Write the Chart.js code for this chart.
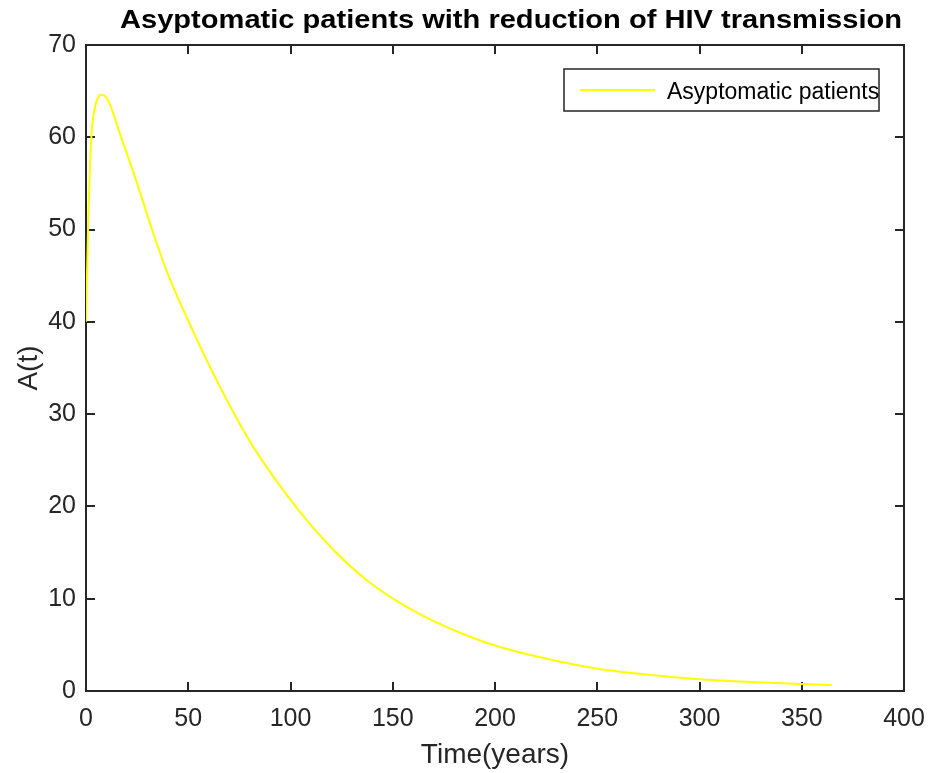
<!DOCTYPE html>
<html>
<head>
<meta charset="utf-8">
<script src="https://cdn.jsdelivr.net/npm/chart.js@4.4.1/dist/chart.umd.min.js"></script>
<style>
  html, body { margin: 0; padding: 0; background: #fff; }
  canvas { display: block; }
</style>
</head>
<body>
<canvas id="chart" width="932" height="773"></canvas>
<script>
// valores
const chartTitle = 'Asyptomatic patients with reduction of HIV transmission';
const seriesLabel = 'Asyptomatic patients';
const times = [0, 1, 2.6, 4, 5.5, 7.5, 10, 12, 16.6, 25, 32.9, 40, 49.2, 65.5, 81.8, 104.6, 120.9, 137.3, 153.5, 169.8, 186.2, 202.4, 226.9, 249.7, 275, 299.6, 325, 350, 364.6];
const asymptomatic = [40, 50, 60, 62.8, 64.1, 64.6, 64.3, 63.4, 60.4, 55, 49.6, 45.2, 40.5, 32.96, 26.45, 19.4, 15.3, 12.0, 9.55, 7.6, 6.02, 4.77, 3.42, 2.45, 1.76, 1.27, 0.98, 0.76, 0.65];
const xTicks = [0, 50, 100, 150, 200, 250, 300, 350, 400];
const yTicks = [0, 10, 20, 30, 40, 50, 60, 70];

const axisColor = '#262626';
const fontFamily = 'Arial, "Liberation Sans", sans-serif';

// caja de ejes estilo MATLAB, marcas hacia dentro en los cuatro lados
const framePlugin = {
    id: 'frame',
    beforeDatasetsDraw(chart) {
        const { ctx, chartArea: a, scales } = chart;
        const len = 9;
        ctx.save();
        ctx.strokeStyle = axisColor;
        ctx.lineWidth = 2;
        ctx.strokeRect(a.left, a.top, a.right - a.left, a.bottom - a.top);
        ctx.beginPath();
        xTicks.forEach(v => {
            const px = Math.round(scales.x.getPixelForValue(v));
            ctx.moveTo(px, a.bottom); ctx.lineTo(px, a.bottom - len);
            ctx.moveTo(px, a.top); ctx.lineTo(px, a.top + len);
        });
        yTicks.forEach(v => {
            const py = Math.round(scales.y.getPixelForValue(v));
            ctx.moveTo(a.left, py); ctx.lineTo(a.left + len, py);
            ctx.moveTo(a.right, py); ctx.lineTo(a.right - len, py);
        });
        ctx.stroke();
        ctx.restore();
    },
    afterDatasetsDraw(chart) {
        const { ctx } = chart;
        ctx.save();
        // leyenda
        const box = { x: 564, y: 69, w: 315, h: 42 };
        ctx.fillStyle = '#fff';
        ctx.fillRect(box.x, box.y, box.w, box.h);
        ctx.lineWidth = 1.5;
        ctx.strokeStyle = axisColor;
        ctx.strokeRect(box.x, box.y, box.w, box.h);
        const ds = chart.data.datasets[0];
        ctx.strokeStyle = ds.borderColor;
        ctx.lineWidth = 2;
        ctx.beginPath();
        ctx.moveTo(580, 90); ctx.lineTo(655, 90);
        ctx.stroke();
        ctx.fillStyle = '#000';
        ctx.font = '23px ' + fontFamily;
        ctx.textBaseline = 'alphabetic';
        ctx.textAlign = 'left';
        ctx.fillText(ds.label, 667, 99);

        // titulo (ligeramente ensanchado como en la figura)
        ctx.font = 'bold 25px ' + fontFamily;
        const w = ctx.measureText(chartTitle).width;
        const target = 782;
        ctx.translate(511, 28);
        ctx.scale(target / w, 1);
        ctx.textAlign = 'center';
        ctx.fillText(chartTitle, 0, 0);
        ctx.restore();
    }
};

const ctx = document.getElementById('chart').getContext('2d');
new Chart(ctx, {
    type: 'line',
    data: {
        datasets: [{
            label: seriesLabel,
            data: times.map((t, i) => ({ x: t, y: asymptomatic[i] })),
            borderColor: '#ffff00',
            borderWidth: 2,
            pointRadius: 0,
            fill: false,
            cubicInterpolationMode: 'monotone'
        }]
    },
    options: {
        responsive: false,
        animation: false,
        devicePixelRatio: 1,
        layout: { padding: { top: 45, right: 28, left: 0, bottom: 0 } },
        plugins: {
            legend: { display: false },
            title: { display: false },
            tooltip: { enabled: false }
        },
        scales: {
            x: {
                type: 'linear',
                min: 0,
                max: 400,
                afterBuildTicks: scale => { scale.ticks = xTicks.map(v => ({ value: v })); },
                afterFit: scale => { scale.height = 82; scale.paddingLeft = 0; scale.paddingRight = 0; },
                grid: { display: false, drawTicks: false },
                border: { display: false },
                ticks: { color: axisColor, font: { size: 25, family: fontFamily }, padding: 13, maxRotation: 0 },
                title: { display: true, text: 'Time(years)', color: axisColor, font: { size: 28, family: fontFamily }, padding: { bottom: 1, top: 0 } }
            },
            y: {
                min: 0,
                max: 70,
                afterBuildTicks: scale => { scale.ticks = yTicks.map(v => ({ value: v })); },
                afterFit: scale => { scale.width = 86; scale.paddingTop = 0; scale.paddingBottom = 0; },
                grid: { display: false, drawTicks: false },
                border: { display: false },
                ticks: { color: axisColor, font: { size: 25, family: fontFamily }, padding: 10 },
                title: { display: true, text: 'A(t)', color: axisColor, font: { size: 28, family: fontFamily }, padding: { top: 12, bottom: 0 } }
            }
        }
    },
    plugins: [framePlugin]
});
</script>
</body>
</html>
